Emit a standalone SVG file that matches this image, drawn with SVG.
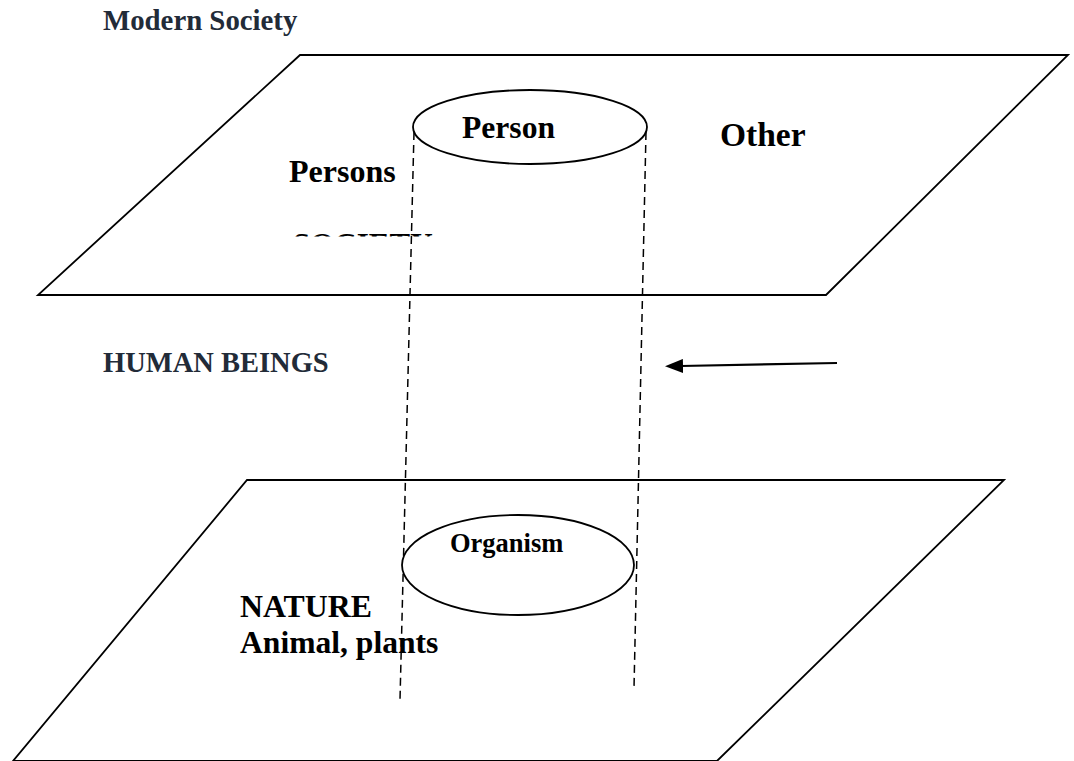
<svg xmlns="http://www.w3.org/2000/svg" width="1074" height="761" viewBox="0 0 1074 761">
<style>
.plane{fill:none;stroke:#000;stroke-width:1.8}
.ell{fill:#fff;stroke:#000;stroke-width:1.8}
.dash{fill:none;stroke:#000;stroke-width:1.5;stroke-dasharray:8,5}
.t{font-family:"Liberation Serif","Times New Roman",serif;font-weight:bold;fill:#000}
.h{font-family:"Liberation Serif","Times New Roman",serif;font-weight:bold;fill:#222b38}
</style>
<defs>
<marker id="ah" markerWidth="18" markerHeight="14" refX="2" refY="7" viewBox="0 0 18 14" orient="auto" markerUnits="userSpaceOnUse">
<path d="M0,0 L18,7 L0,14 Z" fill="#000"/>
</marker>
<clipPath id="socClip"><rect x="280" y="233.5" width="170" height="3"/></clipPath>
</defs>
<g id="label-modern-society"><text class="h" x="103" y="30" font-size="28.8">Modern Society</text></g>
<g id="society-plane">
<polygon class="plane" points="300,55 1068,55 826,295 38,295"/>
<text class="t" x="289" y="182" font-size="32">Persons</text>
<text class="t" x="720" y="146" font-size="33.5">Other</text>
<text class="t" x="293" y="255" font-size="31" clip-path="url(#socClip)">SOCIETY</text>
</g>
<g id="label-human-beings"><text class="h" x="103" y="372" font-size="28.5">HUMAN BEINGS</text></g>
<g id="nature-plane">
<polygon class="plane" points="247,480 1004,480 717,761 13,761"/>
<text class="t" x="240" y="617" font-size="31.8">NATURE</text>
<text class="t" x="240" y="653" font-size="31.6">Animal, plants</text>
</g>
<g id="connectors">
<line class="dash" x1="414" y1="132" x2="400" y2="700"/>
<line class="dash" x1="646" y1="132" x2="634" y2="688"/>
<line x1="837" y1="363" x2="681" y2="366" stroke="#000" stroke-width="2.2" marker-end="url(#ah)"/>
</g>
<g id="node-person">
<ellipse class="ell" cx="530" cy="127" rx="117" ry="37"/>
<text class="t" x="462" y="138" font-size="31.6">Person</text>
</g>
<g id="node-organism">
<ellipse class="ell" cx="518" cy="565" rx="116" ry="50"/>
<text class="t" x="450" y="552" font-size="26.5">Organism</text>
</g>
</svg>
